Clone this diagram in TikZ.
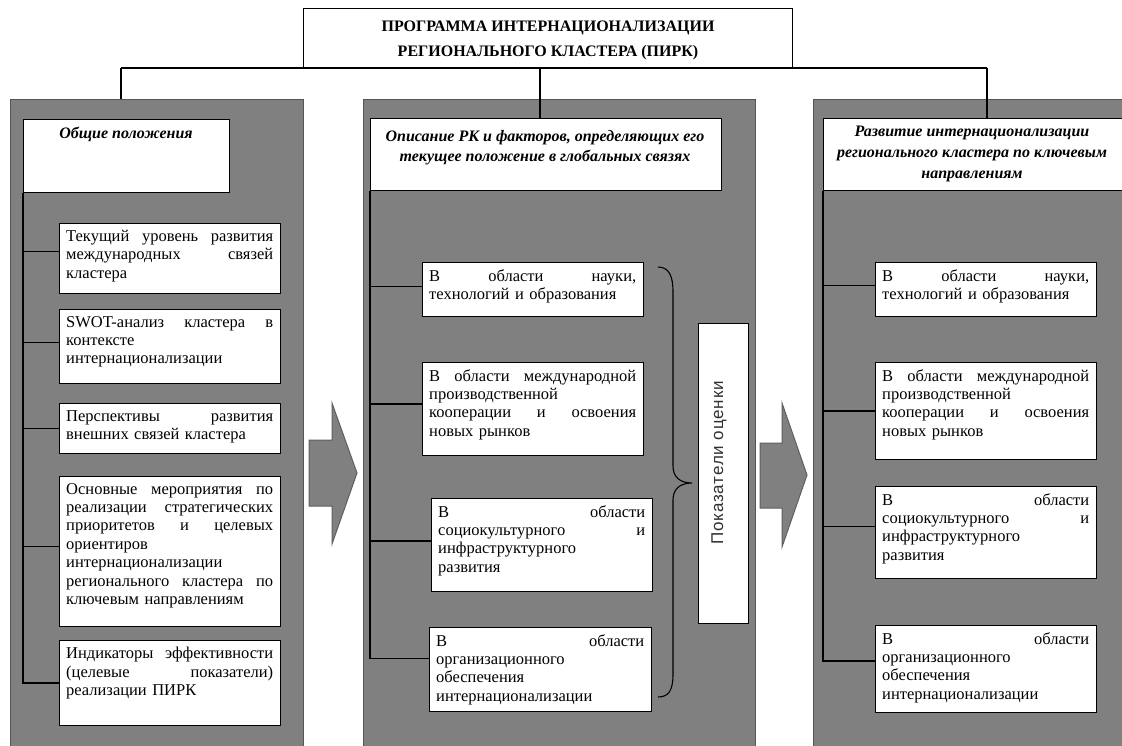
\documentclass[tikz,border=0pt]{standalone}
\usepackage{fontspec}
\setmainfont{Liberation Serif}
\newfontfamily\sansf[LetterSpace=5]{Liberation Sans}
\definecolor{panelgray}{RGB}{128,128,128}
\definecolor{paneledge}{RGB}{85,85,85}
\definecolor{arrowedge}{RGB}{95,95,95}
\definecolor{vtext}{RGB}{50,50,50}
\newcommand{\jl}[1]{{\spaceskip=0pt\xspaceskip=0pt\makebox[\hsize][s]{#1}}}
\tikzset{
  panel/.style={draw=paneledge, line width=1.3pt, fill=panelgray, anchor=north west, inner sep=0},
  wbox/.style={draw=black, line width=1pt, fill=white, anchor=north west, inner sep=0},
  btext/.style={anchor=north west, inner sep=0, text width=#1, align=left,
    font=\fontsize{16.5}{18.4}\selectfont},
  htext/.style={anchor=north, inner sep=0, align=center,
    font=\fontsize{16}{20}\selectfont\bfseries\itshape},
  conn/.style={draw=black, line width=1.1pt},
  bigarrow/.style={draw=arrowedge, line width=1pt, fill=panelgray, line join=miter},
}
% name, x1, y1, x2, y2, content
\newcommand{\tbox}[6]{%
  \pgfmathsetmacro\bw{#4-#2}\pgfmathsetmacro\bh{#5-#3}\pgfmathsetmacro\tw{#4-#2-14}%
  \node[wbox, minimum width=\bw pt, minimum height=\bh pt] (#1) at (#2,#3) {};
  \node[btext=\tw pt] (#1t) at (#2+7,#3+7) {#6};}
\begin{document}
\begin{tikzpicture}[x=1pt, y=-1pt]
\useasboundingbox (0,0) rectangle (1122,745);
\clip (0,0) rectangle (1122,745);
\fill[white] (0,0) rectangle (1122,745);

% title
\node[wbox, minimum width=489pt, minimum height=60pt] (title) at (303,8) {};
\node[anchor=center, inner sep=0, align=center, font=\fontsize{16}{25}\selectfont\bfseries]
  (titlet) at ([yshift=-2pt]title.center) {ПРОГРАММА ИНТЕРНАЦИОНАЛИЗАЦИИ\\РЕГИОНАЛЬНОГО КЛАСТЕРА (ПИРК)};

% panels
\node[panel, minimum width=293pt, minimum height=680pt] (lp) at (10,99) {};
\node[panel, minimum width=392pt, minimum height=680pt] (mp) at (363,99) {};
\node[panel, minimum width=330pt, minimum height=680pt] (rp) at (813,99) {};

% headers
\node[wbox, minimum width=206pt, minimum height=73pt] (lh) at (23,119) {};
\node[htext] (lht) at (126,127) {Общие положения};
\node[wbox, minimum width=351pt, minimum height=72pt] (mh) at (370,118) {};
\node[htext] (mht) at (545,130) {Описание РК и факторов, определяющих его\\текущее положение в глобальных связях};
\node[wbox, minimum width=320pt, minimum height=72pt] (rh) at (823,118) {};
\node[htext, font=\fontsize{16}{21}\selectfont\bfseries\itshape] (rht) at (972,126) {Развитие интернационализации\\регионального кластера по ключевым\\направлениям};

% top connectors
\coordinate (hl) at (121,68);
\coordinate (hm) at (540,68);
\coordinate (hr) at (987,68);
\draw[conn] (hl) -- (hr);
\draw[conn] (hl) -- (hl |- lp.north);
\draw[conn] (hm) -- (hm |- mh.north);
\draw[conn] (hr) -- (hr |- rh.north);

% left boxes
\tbox{l1}{59}{223}{280}{293}{\jl{Текущий уровень развития}\\\jl{международных связей}\\кластера}
\tbox{l2}{59}{309}{280}{383}{\jl{SWOT-анализ кластера в}\\контексте\\интернационализации}
\tbox{l3}{59}{403}{280}{453}{\jl{Перспективы развития}\\внешних связей кластера}
\tbox{l4}{59}{476}{280}{626}{\jl{Основные мероприятия по}\\\jl{реализации стратегических}\\\jl{приоритетов и целевых}\\ориентиров\\интернационализации\\\jl{регионального кластера по}\\ключевым направлениям}
\tbox{l5}{59}{640}{280}{725}{\jl{Индикаторы эффективности}\\\jl{(целевые показатели)}\\реализации ПИРК}
\draw[conn] (lh.south west) |- ([yshift=7pt]l1.west);
\draw[conn] (lh.south west) |- ([yshift=4pt]l2.west);
\draw[conn] (lh.south west) |- (l3.west);
\draw[conn] (lh.south west) |- ([yshift=5pt]l4.west);
\draw[conn] (lh.south west) |- (l5.west);

% middle boxes
\tbox{m1}{422}{262}{643}{316}{\jl{В области науки,}\\технологий и образования}
\tbox{m2}{422}{362}{643}{455}{\jl{В области международной}\\производственной\\\jl{кооперации и освоения}\\новых рынков}
\tbox{m3}{431}{498}{652}{591}{\jl{В области}\\\jl{социокультурного и}\\инфраструктурного\\развития}
\tbox{m4}{429}{627}{651}{711}{\jl{В области}\\организационного\\обеспечения\\интернационализации}
\draw[conn] (mh.south west) |- ([yshift=3pt]m1.west);
\draw[conn] (mh.south west) |- ([yshift=5pt]m2.west);
\draw[conn] (mh.south west) |- ([yshift=4pt]m3.west);
\draw[conn] (mh.south west) |- ([yshift=11pt]m4.west);

% brace
\draw[line width=1.1pt] (658,267) .. controls (669,267) and (673,276) .. (673,292)
  -- (673,466) .. controls (673,477) and (680,483) .. (692,483)
  .. controls (680,483) and (673,489) .. (673,500)
  -- (673,674) .. controls (673,690) and (669,697) .. (658,697);

% indicator box
\node[wbox, minimum width=50pt, minimum height=300pt] (pk) at (698,323) {};
\node[rotate=90, inner sep=0, text=vtext, font=\fontsize{17}{20}\sansf] (pkt) at (719,463) {Показатели оценки};

% right boxes
\tbox{r1}{875}{262}{1096}{316}{\jl{В области науки,}\\технологий и образования}
\tbox{r2}{875}{362}{1096}{459}{\jl{В области международной}\\производственной\\\jl{кооперации и освоения}\\новых рынков}
\tbox{r3}{875}{486}{1096}{578}{\jl{В области}\\\jl{социокультурного и}\\инфраструктурного\\развития}
\tbox{r4}{875}{625}{1096}{712}{\jl{В области}\\организационного\\обеспечения\\интернационализации}
\draw[conn] (rh.south west) |- ([yshift=4pt]r1.west);
\draw[conn] (rh.south west) |- (r2.west);
\draw[conn] (rh.south west) |- ([yshift=6pt]r3.west);
\draw[conn] (rh.south west) |- ([yshift=8pt]r4.west);

% big arrows
\draw[bigarrow] (309,440) -- (332,440) -- (332,403) -- (357,473) -- (332,544) -- (332,506) -- (309,506) -- cycle;
\draw[bigarrow] (760,443) -- (782,443) -- (782,403) -- (807,475) -- (782,547) -- (782,508) -- (760,508) -- cycle;
\end{tikzpicture}
\end{document}
